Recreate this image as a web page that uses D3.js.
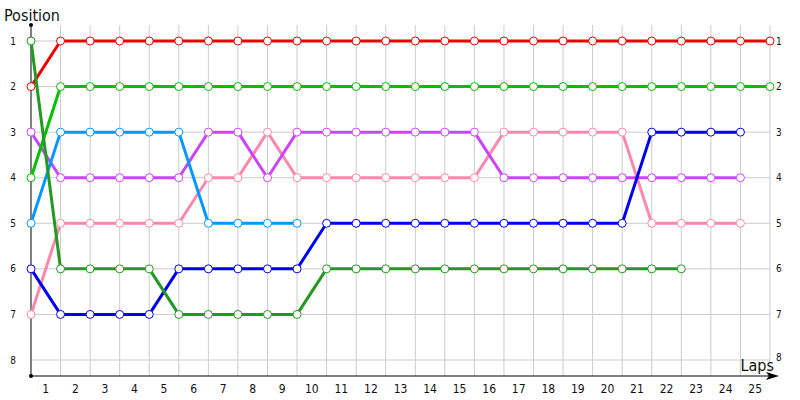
<!DOCTYPE html>
<html>
<head>
<meta charset="utf-8">
<script src="https://cdn.jsdelivr.net/npm/d3@7"></script>
<style>
  body { margin: 0; background: #fff; }
  svg text { font-family: "DejaVu Sans Condensed", "DejaVu Sans", Verdana, sans-serif; fill: #111; }
</style>
</head>
<body>
<svg id="chart" width="800" height="400"></svg>
<script>
var laps = d3.range(0, 26),
    positions = [1, 2, 3, 4, 5, 6, 7, 8],
    lapLabels = d3.range(1, 26);

// position of each car per lap (index = lap), shorter arrays = retired
var red        = [2, 1, 1, 1, 1, 1, 1, 1, 1, 1, 1, 1, 1, 1, 1, 1, 1, 1, 1, 1, 1, 1, 1, 1, 1, 1],
    lightGreen = [4, 2, 2, 2, 2, 2, 2, 2, 2, 2, 2, 2, 2, 2, 2, 2, 2, 2, 2, 2, 2, 2, 2, 2, 2, 2],
    darkGreen  = [1, 6, 6, 6, 6, 7, 7, 7, 7, 7, 6, 6, 6, 6, 6, 6, 6, 6, 6, 6, 6, 6, 6],
    blue       = [6, 7, 7, 7, 7, 6, 6, 6, 6, 6, 5, 5, 5, 5, 5, 5, 5, 5, 5, 5, 5, 3, 3, 3, 3],
    lightBlue  = [5, 3, 3, 3, 3, 3, 5, 5, 5, 5],
    purple     = [3, 4, 4, 4, 4, 4, 3, 3, 4, 3, 3, 3, 3, 3, 3, 3, 4, 4, 4, 4, 4, 4, 4, 4, 4],
    pink       = [7, 5, 5, 5, 5, 5, 4, 4, 3, 4, 4, 4, 4, 4, 4, 4, 3, 3, 3, 3, 3, 5, 5, 5, 5];

var series = [
  { color: "#ff88aa", values: pink },
  { color: "#cc44ff", values: purple },
  { color: "#0099ff", values: lightBlue },
  { color: "#0000ee", values: blue },
  { color: "#ee0000", values: red },
  { color: "#00c000", values: lightGreen },
  { color: "#229922", values: darkGreen }
];

var svg = d3.select("#chart");

var x = d3.scaleLinear().domain([0, 25]).range([31, 770]),
    y = d3.scaleLinear().domain([1, 8]).range([41, 360]);

// grid
svg.append("g").selectAll("line").data(positions).enter().append("line")
    .attr("x1", x(0)).attr("x2", x(25))
    .attr("y1", d => y(d)).attr("y2", d => y(d))
    .style("stroke", "#cccccc").style("stroke-width", 1);

svg.append("g").selectAll("line").data(laps.slice(1)).enter().append("line")
    .attr("x1", d => x(d)).attr("x2", d => x(d))
    .attr("y1", 25).attr("y2", 376)
    .style("stroke", "#cccccc").style("stroke-width", 1);

// axes
svg.append("line").attr("x1", x(0)).attr("x2", x(0)).attr("y1", 25).attr("y2", 376)
    .style("stroke", "#000").style("stroke-width", 1);
svg.append("line").attr("x1", x(0)).attr("x2", 770).attr("y1", 376).attr("y2", 376)
    .style("stroke", "#000").style("stroke-width", 1);
svg.append("path").attr("d", "M766,372 L779,376 L766,380 L769,376 Z").style("fill", "#000");
svg.append("circle").attr("cx", x(0)).attr("cy", 25).attr("r", 2).style("fill", "#000");
svg.append("circle").attr("cx", x(0)).attr("cy", 376).attr("r", 2).style("fill", "#000");

// tick labels
svg.append("g").selectAll("text").data(positions).enter().append("text")
    .attr("x", 16).attr("y", d => y(d)).attr("dy", "0.35em")
    .attr("text-anchor", "end").style("font-size", "10px")
    .text(d => d);

svg.append("g").selectAll("text").data(positions).enter().append("text")
    .attr("x", 776).attr("y", d => y(d) - (d === 8 ? 3 : 0)).attr("dy", "0.35em")
    .style("font-size", "10px")
    .text(d => d);

svg.append("g").selectAll("text").data(lapLabels).enter().append("text")
    .attr("x", d => x(d - 0.5)).attr("y", 389).attr("dy", "0.35em")
    .attr("text-anchor", "middle").style("font-size", "12px")
    .text(d => d);

svg.append("text").attr("x", 4).attr("y", 21).style("font-size", "16px").text("Position");
svg.append("text").attr("x", 774).attr("y", 371).attr("text-anchor", "end")
    .style("font-size", "16px").text("Laps");

// lines and markers
var line = d3.line().x((d, i) => x(i)).y(d => y(d));

series.forEach(function(s) {
  svg.append("path").datum(s.values)
      .attr("d", line)
      .style("fill", "none")
      .style("stroke", s.color)
      .style("stroke-width", 3)
      .style("stroke-linejoin", "round");
});

series.forEach(function(s) {
  svg.append("g").selectAll("circle").data(s.values).enter().append("circle")
      .attr("cx", (d, i) => x(i))
      .attr("cy", d => y(d))
      .attr("r", 4)
      .style("fill", "#fff")
      .style("stroke", s.color)
      .style("stroke-width", 1);
});
</script>
</body>
</html>
